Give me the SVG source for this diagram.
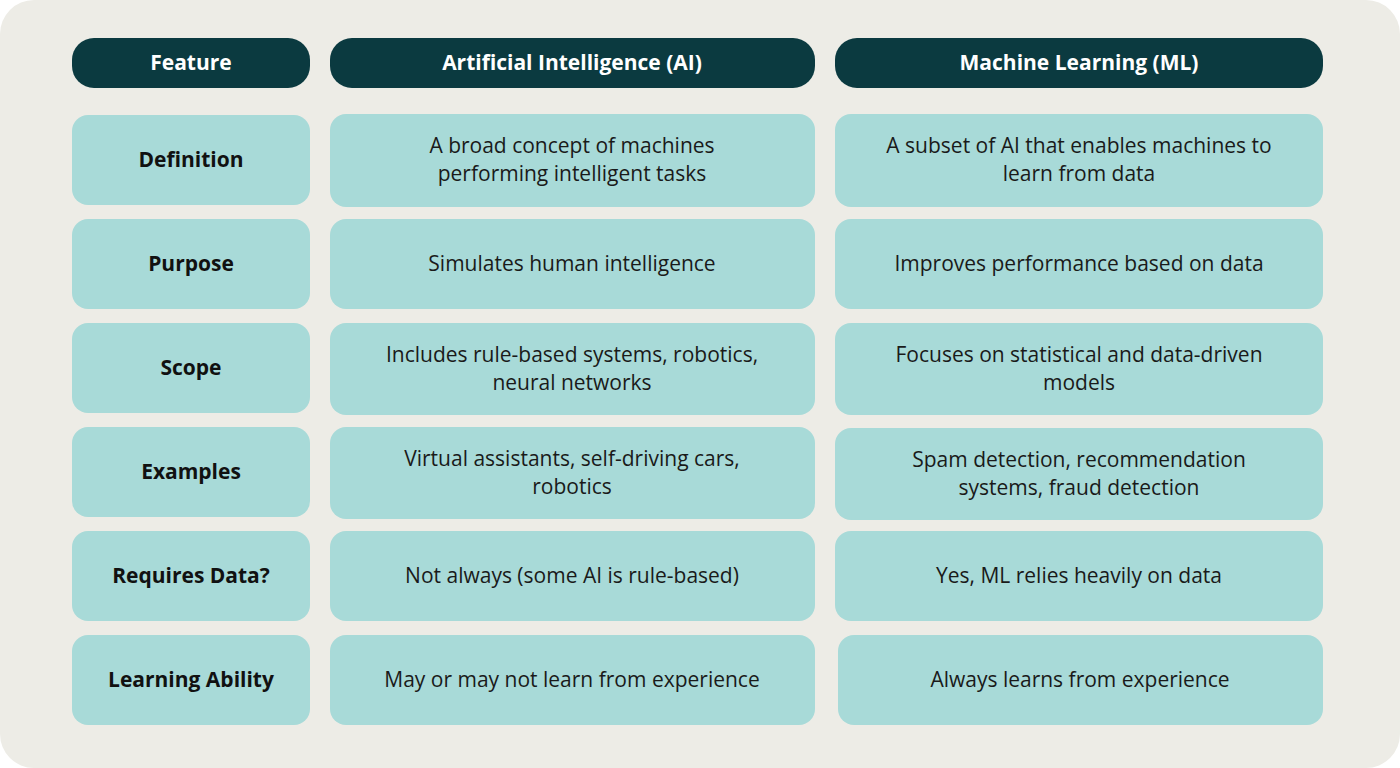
<svg xmlns="http://www.w3.org/2000/svg" width="1400" height="768" viewBox="0 0 1400 768">
<style>
.h{fill:#0B3A40}
.c{fill:#A8DAD8}
.ht{font-family:"Open Sans","Liberation Sans",sans-serif;font-weight:700;font-size:21px;fill:#fff;text-anchor:middle}
.lt{font-family:"Open Sans","Liberation Sans",sans-serif;font-weight:700;font-size:21px;fill:#111;text-anchor:middle}
.t{font-family:"Open Sans","Liberation Sans",sans-serif;font-size:21px;fill:#1a1a1a;text-anchor:middle}
</style>
<rect x="0" y="0" width="1400" height="768" rx="34" fill="#EDECE6"/>
<g id="header">
<rect class="h" x="72" y="38" width="238" height="50" rx="22"/><text class="ht" x="191" y="70">Feature</text>
<rect class="h" x="330" y="38" width="485" height="50" rx="22"/><text class="ht" x="572" y="70">Artificial Intelligence (AI)</text>
<rect class="h" x="835" y="38" width="488" height="50" rx="22"/><text class="ht" x="1079" y="70">Machine Learning (ML)</text>
</g>
<g id="row-definition">
<rect class="c" x="72" y="115" width="238" height="90" rx="16"/><text class="lt" x="191" y="167">Definition</text>
<rect class="c" x="330" y="114" width="485" height="93" rx="16"/><text class="t" x="572" y="153">A broad concept of machines</text><text class="t" x="572" y="181">performing intelligent tasks</text>
<rect class="c" x="835" y="114" width="488" height="93" rx="16"/><text class="t" x="1079" y="153">A subset of AI that enables machines to</text><text class="t" x="1079" y="181">learn from data</text>
</g>
<g id="row-purpose">
<rect class="c" x="72" y="219" width="238" height="90" rx="16"/><text class="lt" x="191" y="271">Purpose</text>
<rect class="c" x="330" y="219" width="485" height="90" rx="16"/><text class="t" x="572" y="271">Simulates human intelligence</text>
<rect class="c" x="835" y="219" width="488" height="90" rx="16"/><text class="t" x="1079" y="271">Improves performance based on data</text>
</g>
<g id="row-scope">
<rect class="c" x="72" y="323" width="238" height="90" rx="16"/><text class="lt" x="191" y="375">Scope</text>
<rect class="c" x="330" y="323" width="485" height="92" rx="16"/><text class="t" x="572" y="362">Includes rule-based systems, robotics,</text><text class="t" x="572" y="390">neural networks</text>
<rect class="c" x="835" y="323" width="488" height="92" rx="16"/><text class="t" x="1079" y="362">Focuses on statistical and data-driven</text><text class="t" x="1079" y="390">models</text>
</g>
<g id="row-examples">
<rect class="c" x="72" y="427" width="238" height="90" rx="16"/><text class="lt" x="191" y="479">Examples</text>
<rect class="c" x="330" y="427" width="485" height="92" rx="16"/><text class="t" x="572" y="466">Virtual assistants, self-driving cars,</text><text class="t" x="572" y="494">robotics</text>
<rect class="c" x="835" y="428" width="488" height="92" rx="16"/><text class="t" x="1079" y="467">Spam detection, recommendation</text><text class="t" x="1079" y="495">systems, fraud detection</text>
</g>
<g id="row-data">
<rect class="c" x="72" y="531" width="238" height="90" rx="16"/><text class="lt" x="191" y="583">Requires Data?</text>
<rect class="c" x="330" y="531" width="485" height="90" rx="16"/><text class="t" x="572" y="583">Not always (some AI is rule-based)</text>
<rect class="c" x="835" y="531" width="488" height="90" rx="16"/><text class="t" x="1079" y="583">Yes, ML relies heavily on data</text>
</g>
<g id="row-learning">
<rect class="c" x="72" y="635" width="238" height="90" rx="16"/><text class="lt" x="191" y="687">Learning Ability</text>
<rect class="c" x="330" y="635" width="485" height="90" rx="16"/><text class="t" x="572" y="687">May or may not learn from experience</text>
<rect class="c" x="838" y="635" width="485" height="90" rx="16"/><text class="t" x="1080" y="687">Always learns from experience</text>
</g>
</svg>
